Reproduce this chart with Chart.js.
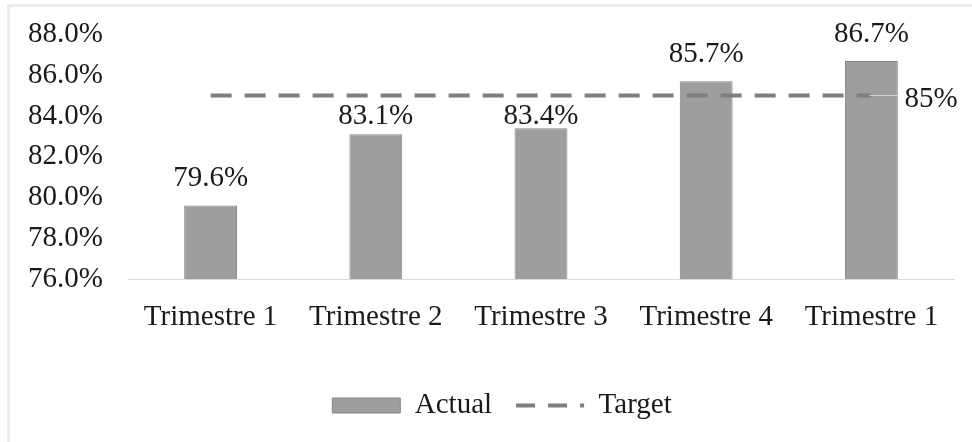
<!DOCTYPE html>
<html>
<head>
<meta charset="utf-8">
<script src="https://cdn.jsdelivr.net/npm/chart.js@4.4.1/dist/chart.umd.min.js"></script>
<style>
  html, body { margin: 0; padding: 0; background: #fff; }
  #wrap { position: relative; width: 972px; height: 442px; }
  #frame { position: absolute; left: 7px; top: 4px; right: 0; bottom: 0;
           border-left: 3px solid #ececec; border-top: 3px solid #ececec; pointer-events: none; }
  canvas { position: absolute; left: 0; top: 0; }
</style>
</head>
<body>
<div id="wrap">
  <canvas id="chart" width="972" height="442"></canvas>
  <div id="frame"></div>
</div>
<script>
const quarters = ['Trimestre 1', 'Trimestre 2', 'Trimestre 3', 'Trimestre 4', 'Trimestre 1'];
const actual = [79.6, 83.1, 83.4, 85.7, 86.7];
const target = [85, 85, 85, 85, 85];
const yTicks = { min: 76, max: 88, step: 2 };

const FONT = 'Liberation Serif';
const TEXT = '#1a1a1a';
const SIZE = 29;

// etiquetas sobre las barras y etiqueta de la meta
const labelsPlugin = {
  id: 'valueLabels',
  afterLayout(chart) {
    // la leyenda del original está algo corrida a la derecha
    chart.legend.left += 50;
  },
  afterDatasetsDraw(chart) {
    const ctx = chart.ctx;
    const pts = chart.getDatasetMeta(0).data;
    ctx.save();
    ctx.font = `${SIZE}px "${FONT}"`;
    ctx.fillStyle = TEXT;
    ctx.textAlign = 'center';
    ctx.textBaseline = 'middle';
    chart.getDatasetMeta(1).data.forEach((bar, i) => {
      let y = bar.y - 27;
      // si la etiqueta choca con la línea de meta, se baja por debajo de ella
      if (actual[i] < target[i]) y = Math.max(y, pts[i].y + 21);
      ctx.fillText(actual[i].toFixed(1) + '%', bar.x, y);
    });

    const last = pts[pts.length - 1];
    ctx.strokeStyle = '#d6d6d6';
    ctx.lineWidth = 1;
    ctx.setLineDash([]);
    ctx.beginPath();
    ctx.moveTo(last.x - 2, last.y);
    ctx.lineTo(last.x + 27, last.y);
    ctx.stroke();
    ctx.textAlign = 'left';
    ctx.fillText(target[target.length - 1] + '%', last.x + 33, last.y + 4);
    ctx.restore();
  }
};

new Chart(document.getElementById('chart'), {
  data: {
    labels: quarters,
    datasets: [
      {
        type: 'line',
        label: 'Target',
        data: target,
        borderColor: '#7f7f7f',
        borderWidth: 4,
        borderDash: [21, 13],
        pointRadius: 0,
        fill: false,
        order: 0
      },
      {
        type: 'bar',
        label: 'Actual',
        data: actual,
        backgroundColor: '#9e9e9e',
        borderColor: '#878787',
        borderWidth: 1,
        barPercentage: 0.32,
        categoryPercentage: 1,
        order: 1
      }
    ]
  },
  options: {
    responsive: false,
    animation: false,
    layout: { padding: { top: 18, right: 18, bottom: 12, left: 0 } },
    plugins: {
      tooltip: { enabled: false },
      legend: {
        position: 'bottom',
        labels: {
          usePointStyle: true,
          pointStyleWidth: 68,
          boxHeight: 15,
          padding: 24,
          color: TEXT,
          font: { family: FONT, size: SIZE },
          generateLabels: () => [
            { text: 'Actual', fillStyle: '#9e9e9e', strokeStyle: '#878787', lineWidth: 1,
              pointStyle: 'rect', datasetIndex: 1, fontColor: TEXT },
            { text: 'Target', fillStyle: 'rgba(0,0,0,0)', strokeStyle: '#7f7f7f', lineWidth: 4,
              lineDash: [19, 13], pointStyle: 'line', datasetIndex: 0, fontColor: TEXT }
          ]
        }
      }
    },
    scales: {
      x: {
        grid: { display: false },
        border: { color: '#d9d9d9', width: 1 },
        ticks: { color: TEXT, font: { family: FONT, size: SIZE }, padding: 13, maxRotation: 0 },
        afterFit: s => { s.height = 88; }
      },
      y: {
        min: yTicks.min,
        max: yTicks.max,
        grid: { display: false },
        border: { display: false },
        ticks: {
          stepSize: yTicks.step,
          autoSkip: false,
          color: TEXT,
          font: { family: FONT, size: SIZE },
          padding: 17,
          callback: v => v.toFixed(1) + '%'
        },
        afterFit: s => { s.width = 128; }
      }
    }
  },
  plugins: [labelsPlugin]
});
</script>
</body>
</html>
